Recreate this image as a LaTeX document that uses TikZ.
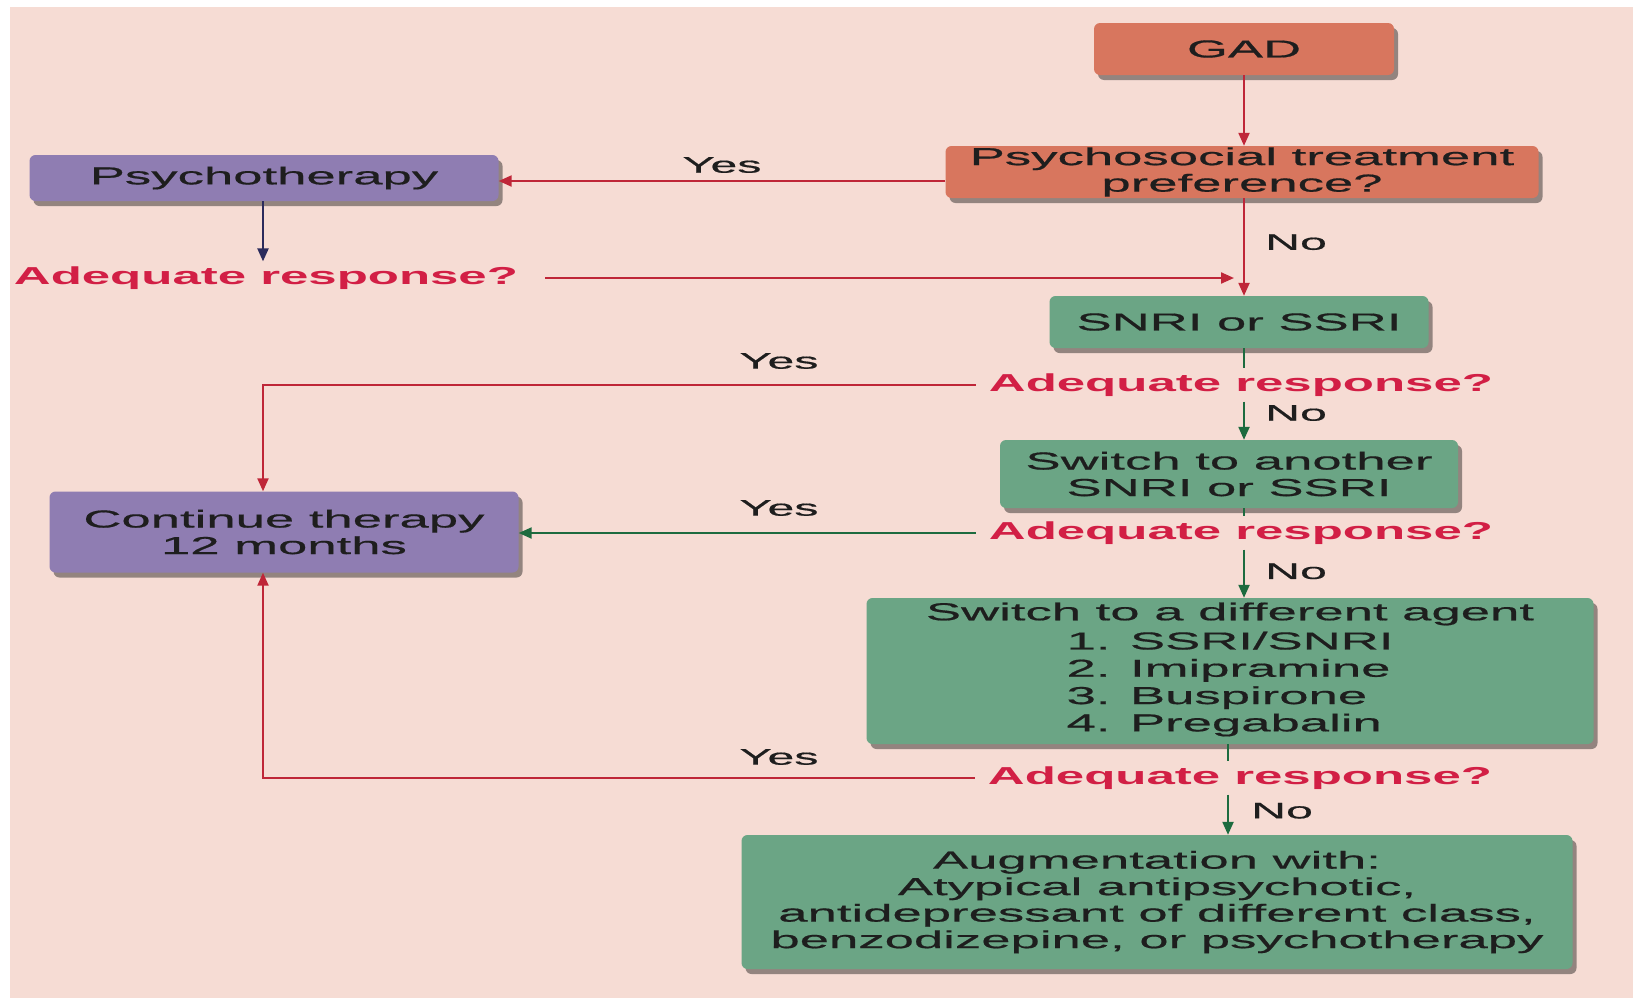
\documentclass[tikz,border=0pt]{standalone}
\usepackage{fontspec}
\setmainfont{Liberation Sans}[FakeStretch=2.15,FakeBold=0.6]
\newfontfamily\arfont{Liberation Sans}[FakeStretch=2.08]
\usetikzlibrary{arrows.meta,shadows,calc}
\definecolor{bgpink}{HTML}{F6DCD4}
\definecolor{salmon}{HTML}{D8765E}
\definecolor{lilac}{HTML}{8F7DB2}
\definecolor{mint}{HTML}{6BA585}
\definecolor{redtxt}{HTML}{D21F45}
\definecolor{redln}{HTML}{BF2638}
\definecolor{grnln}{HTML}{1D6B3F}
\definecolor{navyln}{HTML}{2B2B5C}
\definecolor{ink}{HTML}{1E1E1E}
\tikzset{
  box/.style={rounded corners=6pt, draw=none, align=center, inner sep=0pt,
    text=ink, font=\fontsize{24.5}{26.5}\selectfont,
    drop shadow={shadow xshift=4pt, shadow yshift=-5pt, opacity=0.4, fill=black}},
  salmonbox/.style={box, fill=salmon},
  lilacbox/.style={box, fill=lilac},
  mintbox/.style={box, fill=mint},
  ar/.style={text=redtxt, font=\arfont\bfseries\fontsize{24.5}{28}\selectfont, inner xsep=13pt, inner ysep=5pt},
  lbl/.style={text=ink, font=\fontsize{22.5}{26}\selectfont, inner sep=0pt},
  conn/.style={line width=2.2pt},
  tip/.style={-{Triangle[length=13pt,width=11pt]}},
}
\begin{document}
\begin{tikzpicture}[x=1pt,y=-1pt]
\useasboundingbox (0,0) rectangle (1633,999);
\fill[white] (0,0) rectangle (1633,999);
\fill[bgpink] (10,7) rectangle (1633,998);

% nodes
\node[salmonbox, minimum width=300pt, minimum height=52pt] (gad) at (1244,49) {GAD};
\node[salmonbox, minimum width=593pt, minimum height=52pt] (pref) at (1242,172) {Psychosocial treatment\\preference?};
\node[lilacbox, minimum width=469pt, minimum height=46pt] (psy) at (264,178) {Psychotherapy};
\node[ar] (ar1) at (266,278) {Adequate response?};
\node[mintbox, minimum width=379pt, minimum height=52pt] (snri) at (1239,322) {SNRI or SSRI};
\node[ar] (ar2) at (1241,385) {Adequate response?};
\node[mintbox, minimum width=458pt, minimum height=68pt] (sw1) at (1229,474) {Switch to another\\SNRI or SSRI};
\node[ar] (ar3) at (1241,533) {Adequate response?};
\node[lilacbox, minimum width=469pt, minimum height=81pt] (cont) at (284,532) {Continue therapy\\12 months};
\node[mintbox, minimum width=727pt, minimum height=146pt] (sw2) at (1230,671) {Switch to a different agent\\[4pt]\renewcommand\arraystretch{1.03}\begin{tabular}{@{}l@{}}1. SSRI/SNRI\\2. Imipramine\\3. Buspirone\\4. Pregabalin\end{tabular}};
\node[ar] (ar4) at (1240,778) {Adequate response?};
\node[mintbox, minimum width=831pt, minimum height=134pt] (aug) at (1157,902) {Augmentation with:\\Atypical antipsychotic,\\antidepressant of different class,\\benzodizepine, or psychotherapy};

% helper coordinates
\coordinate (ar1end) at (1234,278);
\coordinate (leftx) at (263,0);
\coordinate (mx) at (1244,0);
\coordinate (lowx) at (1228,0);

% connectors
\draw[conn, tip, redln] (gad.south -| mx) -- (pref.north -| mx);
\draw[conn, tip, redln] (pref.west |- 0,181) -- (psy.east |- 0,181)
  node[lbl, pos=0.5, above=7pt] (yes1) {Yes};
\draw[conn, tip, navyln] (psy.south -| leftx) -- (ar1.north -| leftx);
\draw[conn, tip, redln] ([xshift=14pt]ar1.east) -- (ar1end);
\draw[conn, tip, redln] (pref.south -| mx) -- (snri.north -| mx)
  node[lbl, anchor=west, pos=0.45, xshift=20pt] (no1) {No};
\draw[conn, grnln] (snri.south -| mx) -- (ar2.north -| mx);
\draw[conn, tip, grnln] (ar2.south -| mx) -- (sw1.north -| mx)
  node[lbl, anchor=west, pos=0.3, xshift=20pt] (no2) {No};
\draw[conn, tip, redln] (ar2.west) -- (ar2.west -| leftx) -- (cont.north -| leftx);
\node[lbl] (yes2) at (779,361) {Yes};
\draw[conn, grnln] (sw1.south -| mx) -- (ar3.north -| mx);
\draw[conn, tip, grnln] (ar3.west) -- (cont.east |- ar3.west);
\node[lbl] (yes3) at (779,508) {Yes};
\draw[conn, tip, grnln] (ar3.south -| mx) -- (sw2.north -| mx)
  node[lbl, anchor=west, pos=0.45, xshift=20pt] (no3) {No};
\draw[conn, grnln] (sw2.south -| lowx) -- (ar4.north -| lowx);
\draw[conn, tip, redln] (ar4.west) -- (ar4.west -| leftx) -- (cont.south -| leftx);
\node[lbl] (yes4) at (779,757) {Yes};
\draw[conn, tip, grnln] (ar4.south -| lowx) -- (aug.north -| lowx)
  node[lbl, anchor=west, pos=0.4, xshift=22pt] (no4) {No};
\end{tikzpicture}
\end{document}
